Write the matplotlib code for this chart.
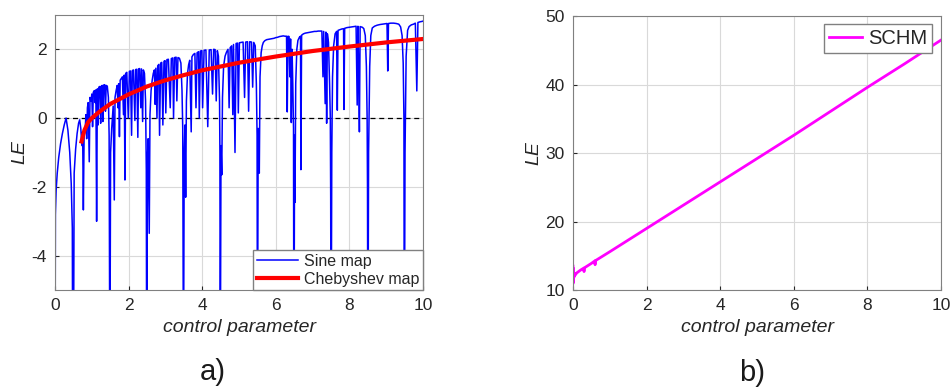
import matplotlib
matplotlib.use('Agg')
import matplotlib.pyplot as plt

plt.rcParams['font.family'] = ['Liberation Sans', 'DejaVu Sans']
plt.rcParams['axes.unicode_minus'] = False

# Sine map LE (lobes between the deep dips at k+0.5)
sine_x = [
    0.00, 0.01, 0.03, 0.06, 0.10, 0.15, 0.20, 0.25, 0.30, 0.35, 0.40, 0.44, 0.47, 0.48,
    0.50, 0.52, 0.56, 0.60, 0.64, 0.67, 0.70, 0.73, 0.75, 0.77, 0.79, 0.82, 0.84, 0.86,
    0.88, 0.90, 0.93, 0.95, 0.98, 1.00, 1.02, 1.04, 1.07, 1.09, 1.11, 1.13, 1.15, 1.17,
    1.19, 1.22, 1.24, 1.26, 1.28, 1.30, 1.32, 1.35, 1.37, 1.39, 1.42, 1.45, 1.47, 1.49,
    1.51, 1.54, 1.58, 1.61, 1.63, 1.66, 1.69, 1.71, 1.73, 1.75, 1.77, 1.80, 1.83, 1.86,
    1.88, 1.90, 1.92, 1.95, 1.99, 2.02, 2.05, 2.08, 2.10, 2.13, 2.17, 2.19, 2.22, 2.25,
    2.27, 2.30, 2.33, 2.35, 2.38, 2.40, 2.43, 2.46, 2.48, 2.49,
    2.51, 2.53, 2.56, 2.58, 2.61, 2.64, 2.67, 2.70, 2.72, 2.74, 2.77, 2.79, 2.82, 2.84,
    2.87, 2.90, 2.93, 2.96, 2.99, 3.01, 3.04, 3.08, 3.13, 3.16, 3.20, 3.22, 3.25, 3.29,
    3.31, 3.34, 3.38, 3.42, 3.45, 3.47, 3.49,
    3.51, 3.53, 3.55, 3.57, 3.60, 3.63, 3.66, 3.70, 3.72, 3.76, 3.80, 3.83, 3.86, 3.90,
    3.92, 3.95, 3.99, 4.01, 4.05, 4.10, 4.15, 4.19, 4.24, 4.28, 4.31, 4.35, 4.38, 4.41,
    4.44, 4.47, 4.48, 4.49,
    4.51, 4.53, 4.55, 4.58, 4.62, 4.66, 4.70, 4.73, 4.76, 4.80, 4.83, 4.85, 4.89, 4.92,
    4.96, 4.98, 5.01, 5.06, 5.11, 5.15, 5.18, 5.23, 5.26, 5.29, 5.34, 5.37, 5.40, 5.44,
    5.47, 5.49, 5.50,
    5.52, 5.55, 5.57, 5.60, 5.63, 5.66, 5.70, 5.75, 5.80, 5.85, 5.90, 5.95, 6.00, 6.05,
    6.10, 6.15, 6.20, 6.25, 6.29, 6.31, 6.33, 6.36, 6.38, 6.40, 6.42, 6.44, 6.46, 6.48,
    6.49,
    6.51, 6.52, 6.54, 6.57, 6.60, 6.64, 6.67, 6.68, 6.70, 6.75, 6.80, 6.85, 6.90, 6.95,
    7.00, 7.05, 7.10, 7.15, 7.20, 7.25, 7.28, 7.30, 7.34, 7.36, 7.38, 7.40, 7.43, 7.46,
    7.48, 7.49, 7.50,
    7.52, 7.54, 7.57, 7.61, 7.65, 7.67, 7.69, 7.74, 7.79, 7.84, 7.85, 7.87, 7.93, 8.00,
    8.06, 8.12, 8.18, 8.21, 8.23, 8.25, 8.27, 8.29, 8.32, 8.35, 8.39, 8.43, 8.46, 8.48,
    8.49, 8.50,
    8.52, 8.55, 8.58, 8.62, 8.68, 8.75, 8.83, 8.90, 8.97, 9.02, 9.04, 9.06, 9.12, 9.20,
    9.27, 9.34, 9.39, 9.43, 9.46, 9.48, 9.49,
    9.51, 9.54, 9.58, 9.62, 9.68, 9.74, 9.79, 9.83, 9.86, 9.92, 9.97, 10.0,
]
sine_le = [
    -8.0, -2.8, -2.1, -1.6, -1.15, -0.75, -0.45, -0.2, 0.0, -0.35, -1.0, -1.9, -3.2, -8.0,
    -8.0, -1.6, -0.9, -0.45, -0.15, -0.05, -0.3, -0.8, -0.4, -2.67, -0.5, -0.3, 0.1, -0.6,
    0.3, 0.45, -1.27, 0.6, 0.5, 0.7, -0.25, 0.75, 0.8, 0.45, 0.82, -3.0, 0.85, -0.2,
    0.9, 0.92, -0.15, 0.93, 0.95, -0.1, 0.96, 0.97, 0.2, 0.95, 0.93, 0.6, -0.5, -8.0,
    -1.0, -0.3, 0.35, -2.38, 0.6, 0.8, 0.95, 0.3, 1.0, -0.54, 1.1, 1.15, 1.2, 0.1,
    1.25, -1.8, 1.3, 1.33, 0.0, 1.36, 1.37, -0.5, 1.38, 1.4, -0.07, 1.41, 1.42, -0.56,
    1.43, 1.44, 0.3, 1.43, -0.1, 1.4, 1.3, 0.5, -1.5, -8.0,
    -1.2, -0.6, -3.35, 0.1, 0.8, 1.1, 1.3, 1.4, 0.4, 1.45, 0.0, 1.52, 1.56, -0.5,
    1.6, 1.62, -0.2, 1.65, 1.67, 0.15, 1.7, 1.71, 0.3, 1.73, 1.75, 0.0, 1.76, 1.77,
    0.5, 1.76, 1.74, 1.6, 0.8, -0.3, -8.0,
    -1.0, -0.2, -2.3, 0.5, 1.3, 1.55, 1.68, -0.4, 1.78, 1.85, 1.88, 0.3, 1.9, 1.93,
    0.0, 1.95, 1.96, 0.3, 1.97, 1.98, -0.25, 1.98, 1.99, 0.7, 2.0, 1.99, 0.5, 1.96,
    1.8, 0.5, -1.0, -8.0,
    -0.8, -1.65, 0.6, 1.5, 1.8, 1.92, 2.0, 0.3, 2.05, 2.1, 0.1, 2.14, -1.0, 2.17,
    2.18, 0.15, 2.19, 2.2, 2.21, 0.6, 2.21, 2.22, 0.2, 2.22, 2.21, 0.9, 2.2, 2.1,
    1.0, -0.5, -8.0,
    -0.3, -1.6, 1.2, 1.9, 2.1, 2.2, 2.25, 2.28, 2.29, 2.3, 2.31, 2.32, 2.34, 2.35,
    2.37, 2.38, 2.39, 2.38, 2.38, 0.18, 2.38, 2.37, 1.2, 2.3, -0.13, 2.0, 1.0, -0.3,
    -8.0,
    -0.5, -2.45, 1.0, 2.0, 2.26, 2.35, 2.38, -1.5, 2.41, 2.45, 2.47, 2.48, 2.49, 2.5,
    2.51, 2.52, 2.52, 2.53, 2.53, 2.53, 1.2, 2.52, 0.42, 2.5, -0.15, 2.45, 2.2, 1.0,
    0.0, -2.3, -8.0,
    -1.0, 1.2, 2.1, 2.45, 2.52, 0.23, 2.55, 2.57, 2.59, 2.6, 0.25, 2.61, 2.63, 2.64,
    2.65, 2.66, 2.67, 0.38, 2.67, 1.4, -0.4, 2.66, 2.65, 2.64, 2.6, 2.4, 1.5, 0.0,
    -2.0, -8.0,
    -1.0, 1.5, 2.4, 2.62, 2.67, 2.7, 2.72, 2.73, 2.74, 2.75, 1.37, 2.75, 2.76, 2.76,
    2.75, 2.73, 2.65, 2.4, 1.6, 0.0, -8.0,
    -1.0, 1.8, 2.55, 2.66, 2.71, 2.73, 2.76, 0.79, 2.78, 2.8, 2.81, 2.82,
]

# Chebyshev map LE
cheb_x = [0.72, 0.8, 0.9, 1.0, 1.2, 1.5, 2.0, 2.5, 3.0, 3.5, 4.0, 5.0, 6.0, 7.0, 8.0, 9.0, 10.0]
cheb_le = [-0.68, -0.35, -0.12, 0.0, 0.18, 0.41, 0.69, 0.92, 1.10, 1.25, 1.39, 1.61, 1.79,
           1.95, 2.08, 2.20, 2.30]

# SCHM LE
schm_x = [0.0, 0.005, 0.01, 0.015, 0.02, 0.03, 0.04, 0.06, 0.1, 0.2, 0.29, 0.30, 0.31,
          0.5, 0.59, 0.60, 0.61, 1.0, 2.0, 3.0, 4.0, 5.0, 6.0, 7.0, 8.0, 9.0, 10.0]
schm_le = [13.5, 11.0, 13.2, 11.5, 12.6, 11.9, 12.4, 12.2, 12.5, 12.9, 13.2, 12.7, 13.25,
           13.9, 14.25, 13.7, 14.3, 15.6, 19.0, 22.4, 25.8, 29.2, 32.6, 36.1, 39.6, 43.0, 46.5]

fig = plt.figure(figsize=(9.52, 3.92), dpi=100)
ax1 = fig.add_axes([0.0578, 0.260, 0.3866, 0.702])
ax2 = fig.add_axes([0.6019, 0.260, 0.3866, 0.699])

tick_col = '#262626'
for ax in (ax1, ax2):
    ax.grid(True, color='#d9d9d9', linewidth=0.8)
    ax.set_axisbelow(True)
    ax.tick_params(direction='in', length=3, labelsize=12.5, colors=tick_col, pad=6)
    for s in ax.spines.values():
        s.set_color('#808080')
        s.set_linewidth(0.8)
    ax.set_xlim(0, 10)
    ax.set_xticks([0, 2, 4, 6, 8, 10])
    ax.set_xlabel('control parameter', fontsize=14, style='italic', color=tick_col, labelpad=4)
    ax.set_ylabel('LE', fontsize=14, style='italic', color=tick_col, labelpad=2)

ax1.axhline(0, color='k', linestyle='--', linewidth=0.9, dashes=(4, 3), zorder=1)
ax1.plot(sine_x, sine_le, color='#0000ff', linewidth=1.1, label='Sine map', zorder=2)
ax1.plot(cheb_x, cheb_le, color='#ff0000', linewidth=3, label='Chebyshev map', zorder=3)
ax1.set_ylim(-5, 3)
ax1.set_yticks([-4, -2, 0, 2])
leg1 = ax1.legend(loc='lower right', fontsize=11.5, fancybox=False, borderaxespad=0,
                  handlelength=2.6, handletextpad=0.4, borderpad=0.2, labelspacing=0.2,
                  framealpha=1)
leg1.get_frame().set_edgecolor('#808080')
for t in leg1.get_texts():
    t.set_color(tick_col)

ax2.plot(schm_x, schm_le, color='#ff00ff', linewidth=2, label='SCHM')
ax2.set_ylim(10, 50)
ax2.set_yticks([10, 20, 30, 40, 50])
leg2 = ax2.legend(loc='upper right', fontsize=14.5, fancybox=False,
                  bbox_to_anchor=(0.975, 0.97), borderaxespad=0,
                  handlelength=1.6, handletextpad=0.3, borderpad=0.25, framealpha=1)
leg2.get_frame().set_edgecolor('#808080')
for t in leg2.get_texts():
    t.set_color(tick_col)

fig.text(213 / 952, 1 - 372 / 392, 'a)', fontsize=21, ha='center', va='center', color='#1a1a1a')
fig.text(752 / 952, 1 - 373 / 392, 'b)', fontsize=21, ha='center', va='center', color='#1a1a1a')

fig.savefig('out.png', dpi=100)
